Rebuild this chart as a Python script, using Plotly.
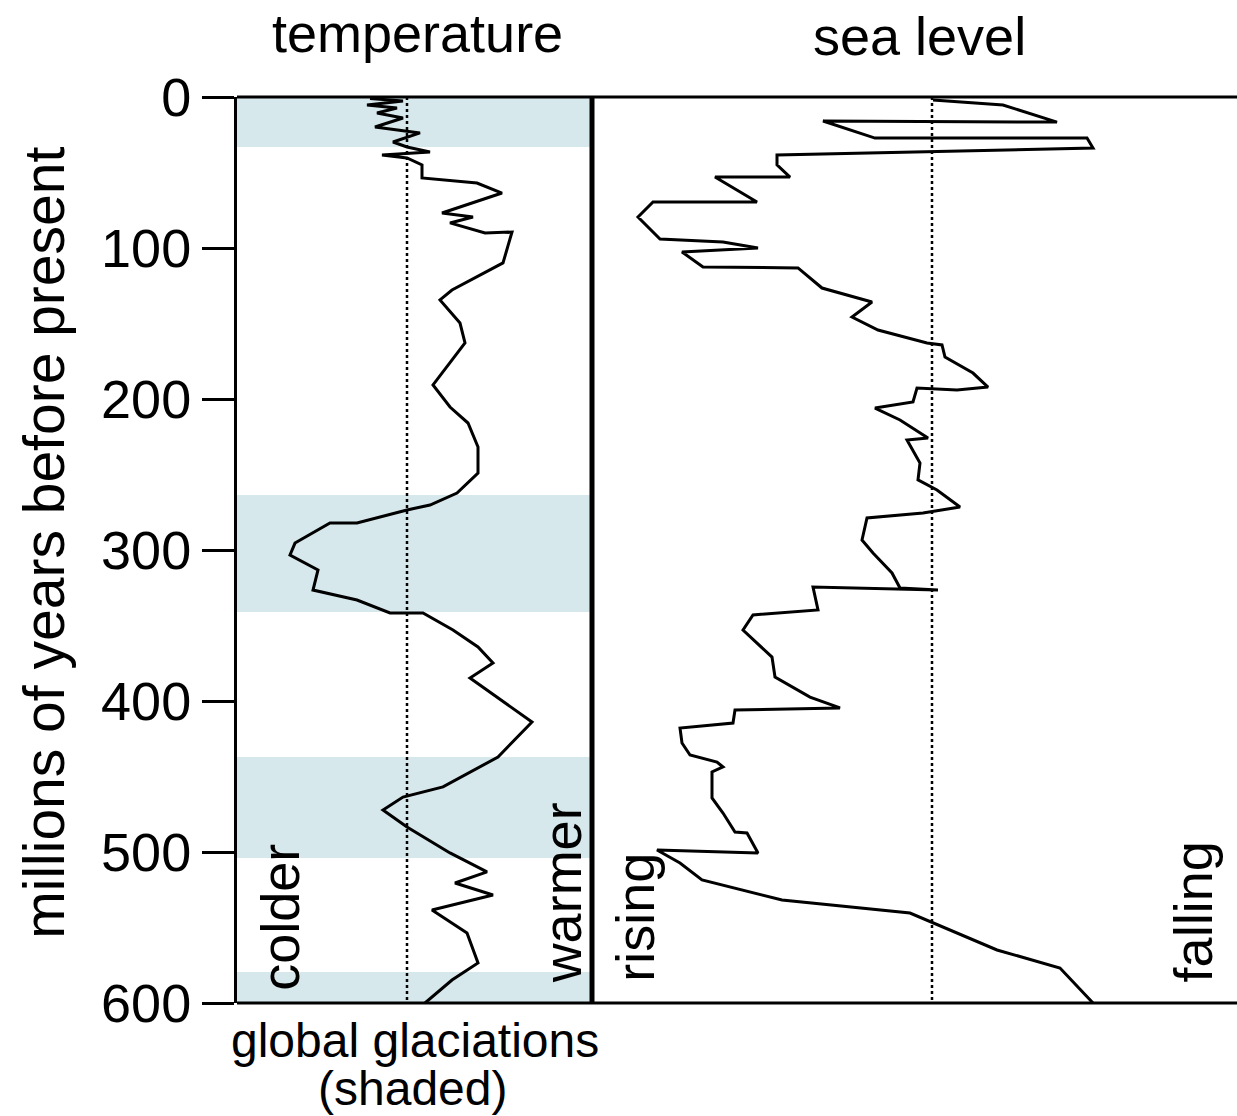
import plotly.graph_objects as go

# ---- data ----
# temperature curve: age (Myr before present) and relative temperature (0 = dashed reference)
temp_age = [1, 2.6, 5.3, 7.3, 10.6, 13.9, 19.9, 23.8, 29.8, 33.1, 36.4, 38.4, 40.4, 45.0,
            53.6, 57.0, 63.6, 76.8, 79.5, 83.4, 90.1, 89.4, 109.9, 127.8, 134.4, 149.7,
            162.9, 178.8, 190.7, 205.3, 215.9, 231.8, 249.0, 262.3, 270.2, 273.5, 282.1,
            282.1, 295.4, 303.3, 313.2, 326.5, 333.1, 341.7, 341.7, 353.0, 364.2, 374.8,
            384.8, 413.9, 437.1, 456.9, 463.6, 472.2, 483.4, 500.6, 513.2, 520.5, 528.5,
            538.4, 553.6, 573.5, 584.8, 600]
temp_val = [-37, -4, -40, -10, -30, -4, -32, 13, -14, 0, 23, -25, 0, 15,
            15, 70, 95, 35, 66, 43, 78, 105, 96, 45, 33, 53,
            58, 40, 26, 43, 61, 71, 71, 50, 23, 0, -50,
            -77, -112, -117, -89, -94, -50, -17, 16, 46, 71, 86,
            63, 125, 91, 36, -4, -24, 0, 43, 80, 48, 86,
            25, 60, 71, 45, 18]

# sea level curve: age (Myr) and relative sea level (negative = rising, positive = falling)
sea_age = [2.0, 5.3, 16.6, 15.9, 27.2, 27.2, 33.8, 38.4, 45.0, 53.0, 53.0, 69.5, 69.5,
           79.5, 94.0, 96.0, 100.0, 102.6, 112.6, 113.2, 126.5, 135.8, 145.7, 154.3,
           162.9, 164.2, 172.2, 182.8, 192.1, 194.0, 192.7, 202.0, 206.0, 213.9, 225.8,
           227.2, 242.4, 253.6, 260.3, 271.5, 275.5, 278.8, 293.4, 302.0, 315.2, 325.2,
           326.5, 324.5, 339.7, 343.0, 353.0, 370.9, 384.1, 397.4, 404.6, 406.0, 414.6,
           417.9, 427.8, 435.8, 440.4, 443.7, 447.0, 464.2, 474.2, 486.8, 487.4, 500.6,
           498.7, 507.3, 518.5, 531.8, 540.4, 547.0, 564.9, 576.8, 600]
sea_val = [1, 71, 125, -109, -57, 155, 161, -155, -155, -142, -217, -175, -279,
           -294, -272, -209, -174, -250, -229, -134, -110, -60, -80, -54,
           -5, 10, 13, 41, 56, 25, -15, -19, -57, -32, -4,
           -25, -12, -14, 5, 28, -9, -65, -70, -59, -40, -32,
           6, -119, -114, -179, -189, -160, -157, -122, -92, -197, -199,
           -252, -250, -242, -215, -209, -220, -220, -209, -197, -185, -174,
           -275, -252, -230, -150, -22, 1, 65, 128, 161]

# global glaciation intervals (Myr before present)
glac_start = [0, 263.6, 437.1, 579.5]
glac_end = [33.1, 341.1, 504.0, 600]

age_ticks = [0, 100, 200, 300, 400, 500, 600]

FONT = "Liberation Sans, Arial, sans-serif"
SPLIT = 0.355

fig = go.Figure()

fig.add_trace(go.Scatter(x=temp_val, y=temp_age, mode="lines", xaxis="x", yaxis="y",
                         line=dict(color="black", width=3), showlegend=False, hoverinfo="skip"))
fig.add_trace(go.Scatter(x=[0, 0], y=[0, 600], mode="lines", xaxis="x", yaxis="y",
                         line=dict(color="black", width=2.5, dash="dot"), showlegend=False))
fig.add_trace(go.Scatter(x=sea_val, y=sea_age, mode="lines", xaxis="x2", yaxis="y",
                         line=dict(color="black", width=3), showlegend=False, hoverinfo="skip"))
fig.add_trace(go.Scatter(x=[0, 0], y=[0, 600], mode="lines", xaxis="x2", yaxis="y",
                         line=dict(color="black", width=2.5, dash="dot"), showlegend=False))

shapes = []
for s, e in zip(glac_start, glac_end):
    shapes.append(dict(type="rect", xref="paper", yref="y", x0=0, x1=SPLIT, y0=s, y1=e,
                       fillcolor="#d6e8ec", line=dict(width=0), layer="below"))
# frame lines
shapes.append(dict(type="line", xref="paper", yref="paper", x0=0, x1=1, y0=1, y1=1,
                   line=dict(color="black", width=3)))
shapes.append(dict(type="line", xref="paper", yref="paper", x0=0, x1=1, y0=0, y1=0,
                   line=dict(color="black", width=3)))
shapes.append(dict(type="line", xref="paper", yref="paper", x0=SPLIT, x1=SPLIT, y0=0, y1=1,
                   line=dict(color="black", width=5)))

def ann(text, x, y, size, angle=0):
    return dict(text=text, x=x, y=y, xref="paper", yref="paper", showarrow=False,
                xanchor="center", yanchor="middle", textangle=angle,
                font=dict(family=FONT, size=size, color="black"))

annotations = [
    ann("temperature", 0.180, 1.071, 54),
    ann("sea level", 0.682, 1.067, 54),
    ann("global glaciations", 0.178, -0.041, 48),
    ann("(shaded)", 0.175, -0.094, 48),
    ann("colder", 0.043, 0.094, 54, -90),
    ann("warmer", 0.325, 0.121, 54, -90),
    ann("rising", 0.398, 0.094, 54, -90),
    ann("falling", 0.956, 0.100, 54, -90),
    ann("millions of years before present", -0.193, 0.508, 57, -90),
]

fig.update_layout(
    width=1237, height=1116,
    margin=dict(l=237, r=0, t=97, b=113),
    paper_bgcolor="white", plot_bgcolor="rgba(0,0,0,0)",
    xaxis=dict(domain=[0, SPLIT], range=[-170, 185], visible=False, fixedrange=True),
    xaxis2=dict(domain=[SPLIT, 1], range=[-340, 305], visible=False, anchor="y", fixedrange=True),
    yaxis=dict(range=[600, 0], tickvals=age_ticks, ticktext=[str(t) for t in age_ticks],
               ticks="outside", ticklen=32, tickwidth=2.5, tickcolor="black",
               showline=True, linecolor="black", linewidth=3, showgrid=False, zeroline=False,
               tickfont=dict(family=FONT, size=54, color="black"), anchor="x"),
    shapes=shapes,
    annotations=annotations,
    showlegend=False,
)

fig.write_html("out.html")
